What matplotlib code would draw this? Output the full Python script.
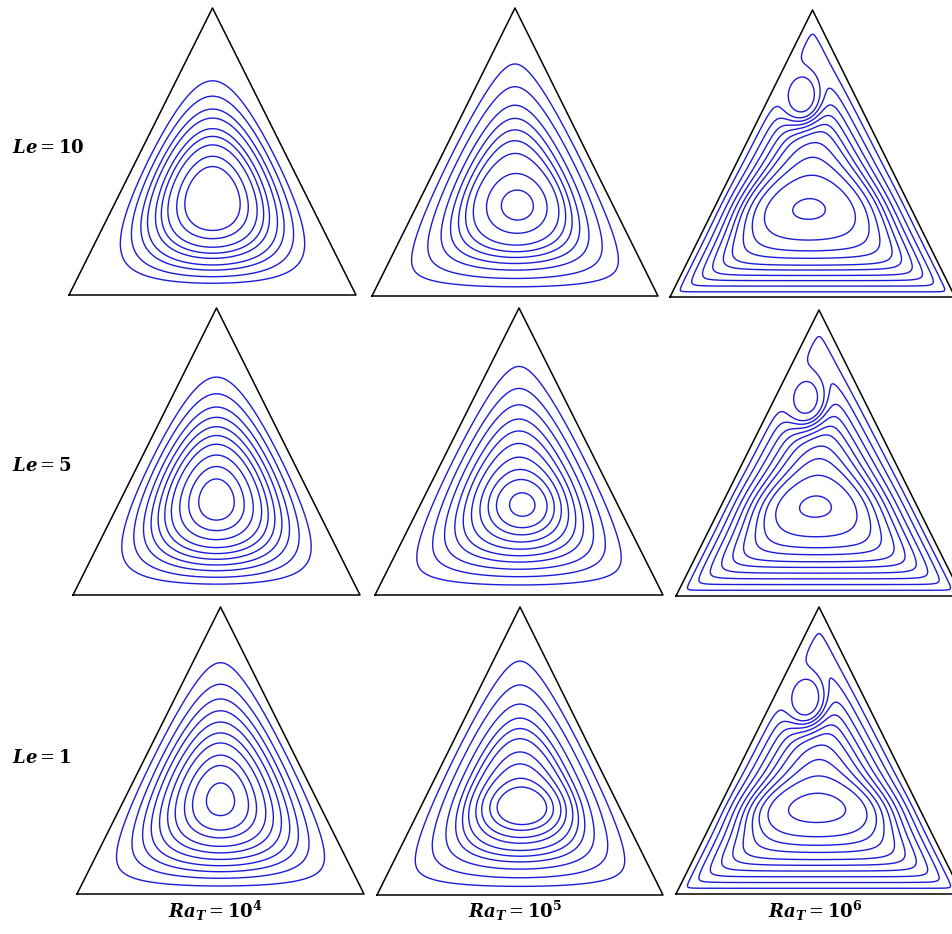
import numpy as np
import matplotlib.pyplot as plt

plt.rcParams["mathtext.fontset"] = "dejavuserif"

W, H = 953, 934
LE_VALUES = ["10", "5", "1"]
RA_EXPONENTS = ["4", "5", "6"]

# triangle placement in pixels: base_left, base_right, base_y, apex_y
TRI_BOX = [
    [(69, 356, 295, 8), (372, 658, 296, 8), (670, 955, 297, 10)],
    [(73, 360, 595, 308), (375, 663, 595, 308), (676, 962, 596, 310)],
    [(77, 364, 894, 607), (377, 663, 895, 607), (676, 962, 894, 607)],
]

# streamfunction model per panel (rows Le = 10, 5, 1; columns Ra_T = 1e4, 1e5, 1e6)
WALL_MIX = [[0.2, 0.5, 1.0], [0.25, 0.5, 1.0], [0.4, 0.5, 1.0]]
WALL_P = [2.0, 2.0, 3.0]
LIFT = [[0.0, 0.0, -0.6], [0.0, 0.0, -0.6], [0.0, 0.0, -0.6]]
CORE_X = [[0.516, 0.515, 0.46], [0.52, 0.52, 0.44], [0.524, 0.517, 0.47]]
CORE_Y = [[0.32, 0.31, 0.31], [0.32, 0.31, 0.32], [0.32, 0.30, 0.30]]
CORE_SX = [[0.2, 0.12, 0.25], [0.2, 0.12, 0.25], [0.2, 0.15, 0.3]]
CORE_SY = [[0.2, 0.1, 0.1], [0.2, 0.1, 0.09], [0.2, 0.08, 0.08]]
CORE_AMP = [[0.0, 0.3, 0.45], [0.0, 0.3, 0.25], [0.0, 0.25, 0.45]]

# counter-rotating cell near the apex, only at Ra_T = 1e6 (one entry per row)
SEC_COL = 2
SEC_X = [0.457, 0.448, 0.448]
SEC_Y = [0.71, 0.70, 0.69]
SEC_SX = 0.07
SEC_SY = 0.09
SEC_AMP = 2.0

# contour crossings below the core (normalised height along x = CORE_X)
CROSS_Y = [
    [[0.041, 0.064, 0.087, 0.105, 0.128, 0.146, 0.167, 0.197, 0.226],
     [0.032, 0.061, 0.09, 0.113, 0.134, 0.154, 0.177, 0.218, 0.264],
     [0.018, 0.038, 0.057, 0.075, 0.094, 0.111, 0.135, 0.161, 0.199, 0.274]],
    [[0.038, 0.062, 0.085, 0.105, 0.125, 0.145, 0.166, 0.194, 0.226, 0.264],
     [0.035, 0.064, 0.09, 0.115, 0.137, 0.16, 0.185, 0.21, 0.235, 0.275],
     [0.02, 0.04, 0.06, 0.08, 0.10, 0.12, 0.145, 0.17, 0.21, 0.29]],
    [[0.028, 0.055, 0.078, 0.099, 0.121, 0.144, 0.167, 0.197, 0.225, 0.279],
     [0.03, 0.06, 0.09, 0.115, 0.135, 0.155, 0.18, 0.2, 0.225, 0.245],
     [0.02, 0.04, 0.06, 0.08, 0.10, 0.12, 0.145, 0.17, 0.20, 0.25]],
]
# bottom of the small secondary loop (x = SEC_X)
SEC_LOOP_Y = [0.645, 0.639, 0.624]

LINE_BLUE = "#1c1cd6"


def cavity_mode(x, y):
    # lowest Dirichlet mode of the triangle, height scaled to 1
    u = (np.sin(2 * np.pi * y) + np.sin(2 * np.pi * (x - y / 2))
         - np.sin(2 * np.pi * (x + y / 2)))
    return np.clip(u / 2.598, 1e-9, None)


def wall_distance(x, y, p):
    s5 = np.sqrt(5.0)
    d_b = np.clip(y, 1e-6, None)
    d_l = np.clip((2 * x - y) / s5, 1e-6, None)
    d_r = np.clip((2 - 2 * x - y) / s5, 1e-6, None)
    return (d_b ** -p + d_l ** -p + d_r ** -p) ** (-1.0 / p)


def stream(x, y, r, c):
    mix = WALL_MIX[r][c]
    base = cavity_mode(x, y) ** (1 - mix) * wall_distance(x, y, WALL_P[c]) ** mix
    m = 1.0 + CORE_AMP[r][c] * np.exp(-((x - CORE_X[r][c]) / CORE_SX[r][c]) ** 2
                                      - ((y - CORE_Y[r][c]) / CORE_SY[r][c]) ** 2)
    if c == SEC_COL:
        m = m - SEC_AMP * np.exp(-((x - SEC_X[r]) / SEC_SX) ** 2
                                 - ((y - SEC_Y[r]) / SEC_SY) ** 2)
    return base * m * np.exp(LIFT[r][c] * y ** 2)


fig = plt.figure(figsize=(W / 100, H / 100), dpi=100)

xs = np.linspace(0, 1, 401)
ys = np.linspace(0, 1, 401)
X, Y = np.meshgrid(xs, ys)
inside = (Y <= 2 * X + 1e-9) & (Y <= 2 - 2 * X + 1e-9) & (Y >= 0)

pad = 0.02
for r in range(3):
    for c in range(3):
        bl, br, by, ay = TRI_BOX[r][c]
        pw, ph = br - bl, by - ay
        ax = fig.add_axes([(bl - pad * pw) / W, 1 - (by + pad * ph) / H,
                           pw * (1 + 2 * pad) / W, ph * (1 + 2 * pad) / H])
        ax.set_xlim(-pad, 1 + pad)
        ax.set_ylim(-pad, 1 + pad)
        ax.axis("off")

        psi = np.ma.masked_where(~inside, stream(X, Y, r, c))
        levels = [stream(CORE_X[r][c], h, r, c) for h in CROSS_Y[r][c]]
        if c == SEC_COL:
            levels.append(stream(SEC_X[r], SEC_LOOP_Y[r], r, c))
        levels = sorted(set(levels))
        ax.contour(X, Y, psi, levels=levels, colors=LINE_BLUE,
                   linewidths=1.0, linestyles="solid")

        ax.plot([0, 1, 0.5, 0], [0, 0, 1, 0], color="black", lw=1.1)

for r, le in enumerate(LE_VALUES):
    yc = [148, 466, 758][r]
    fig.text(12 / W, 1 - yc / H, r"$\mathbfit{Le} = \mathbf{" + le + "}$",
             ha="left", va="center", fontsize=13)

for c, ex in enumerate(RA_EXPONENTS):
    xc = [215, 515, 815][c]
    fig.text(xc / W, 1 - 911 / H,
             r"$\mathbfit{Ra}_{\mathbfit{T}} = \mathbf{10}^{\mathbf{" + ex + "}}$",
             ha="center", va="center", fontsize=13)

fig.savefig("out.png", dpi=100, facecolor="white")
